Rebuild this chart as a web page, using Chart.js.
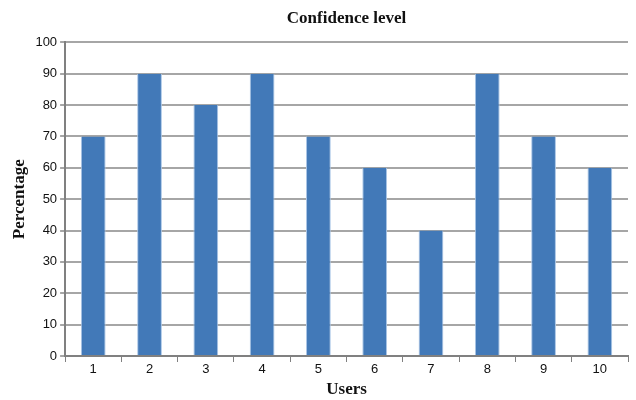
<!DOCTYPE html>
<html>
<head>
<meta charset="utf-8">
<script src="https://cdn.jsdelivr.net/npm/chart.js@4"></script>
<style>
  html, body { margin: 0; padding: 0; background: #fff; }
  #wrap { width: 636px; height: 400px; }
</style>
</head>
<body>
<div id="wrap"><canvas id="chart" width="636" height="400"></canvas></div>
<script>
// Chart data
var users = ["1", "2", "3", "4", "5", "6", "7", "8", "9", "10"];
var confidence = [70, 90, 80, 90, 70, 60, 40, 90, 70, 60];

var serif = "'Liberation Serif', 'Times New Roman', serif";
var sans = "'Liberation Sans', Arial, sans-serif";

var ctx = document.getElementById('chart').getContext('2d');
var chart = new Chart(ctx, {
    type: 'bar',
    data: {
        labels: users,
        datasets: [{
            label: 'Confidence level',
            data: confidence,
            backgroundColor: '#4279b8',
            borderColor: '#a9c5e6',
            borderWidth: { left: 1, right: 1, top: 0, bottom: 0 },
            categoryPercentage: 1,
            barPercentage: 0.44
        }]
    },
    options: {
        responsive: false,
        animation: false,
        layout: { padding: { top: 5, right: 8, left: 9, bottom: 0 } },
        plugins: {
            legend: { display: false },
            tooltip: { enabled: false },
            title: {
                display: true,
                fullSize: false,
                text: 'Confidence level',
                color: '#111',
                font: { family: serif, size: 17, weight: 'bold' },
                padding: { top: 3, bottom: 14 }
            }
        },
        scales: {
            x: {
                offset: true,
                grid: {
                    offset: true,
                    drawOnChartArea: false,
                    drawTicks: true,
                    tickLength: 6,
                    color: '#808080'
                },
                border: { color: '#808080', width: 2 },
                ticks: { color: '#111', font: { family: sans, size: 13 }, padding: 0 },
                title: {
                    display: true,
                    text: 'Users',
                    color: '#111',
                    font: { family: serif, size: 17, weight: 'bold' },
                    padding: { top: 2, bottom: 0 }
                }
            },
            y: {
                min: 0,
                max: 100,
                ticks: { stepSize: 10, color: '#111', font: { family: sans, size: 13 }, padding: 3 },
                grid: { color: '#a6a6a6', lineWidth: 2, tickLength: 5 },
                border: { color: '#808080', width: 2 },
                title: {
                    display: true,
                    text: 'Percentage',
                    color: '#111',
                    font: { family: serif, size: 17, weight: 'bold' },
                    padding: { top: 0, bottom: 3 }
                }
            }
        }
    }
});
</script>
</body>
</html>
